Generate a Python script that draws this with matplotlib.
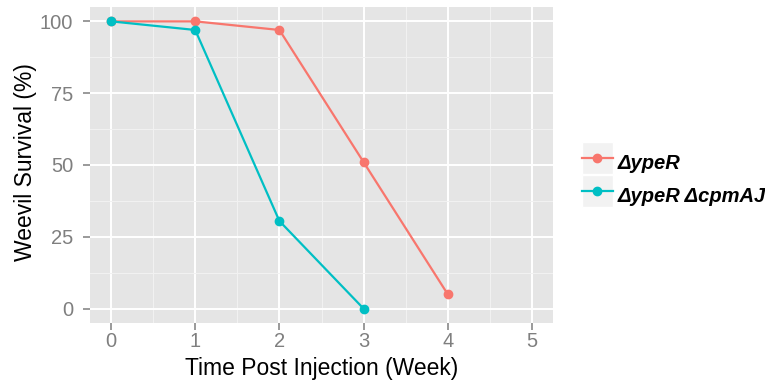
import matplotlib
matplotlib.use("Agg")
import matplotlib.pyplot as plt
from matplotlib.legend_handler import HandlerLine2D
from matplotlib.patches import Rectangle

plt.rcParams['font.family'] = ['Liberation Sans', 'DejaVu Sans']

weeks = [0, 1, 2, 3, 4]
weeks_double = [0, 1, 2, 3]
survival_ypeR = [100, 100, 97, 51, 5]
survival_double = [100, 97, 30.5, 0]
labels = ['ΔypeR', 'ΔypeR ΔcpmAJ']
colors = ['#F8766D', '#00BFC4']
xticks = [0, 1, 2, 3, 4, 5]
yticks = [0, 25, 50, 75, 100]

GREY_BG = '#E5E5E5'
TICK_GREY = '#7F7F7F'


class KeyHandler(HandlerLine2D):
    # ggplot-style legend key: grey square behind the line+point glyph
    def create_artists(self, legend, orig_handle, xdescent, ydescent,
                       width, height, fontsize, trans):
        yc = (height - ydescent) / 2
        bg = Rectangle((-xdescent, yc - height / 2), width, height,
                       facecolor='#F2F2F2', edgecolor='white', lw=1.0,
                       transform=trans)
        arts = super().create_artists(legend, orig_handle, xdescent, ydescent,
                                      width, height, fontsize, trans)
        return [bg] + list(arts)


fig = plt.figure(figsize=(7.65, 3.83), dpi=100)
ax = fig.add_axes([90 / 765, 60 / 383, 463 / 765, 316 / 383])
ax.set_facecolor(GREY_BG)

ax.plot(weeks, survival_ypeR, color=colors[0], lw=1.6, marker='o', ms=6,
        label=labels[0], zorder=3)
ax.plot(weeks_double, survival_double, color=colors[1], lw=1.6, marker='o',
        ms=6, label=labels[1], zorder=3)

ax.set_xlim(-0.25, 5.25)
ax.set_ylim(-5, 105)
ax.set_xticks(xticks)
ax.set_yticks(yticks)
ax.set_xticks([0.5, 1.5, 2.5, 3.5, 4.5], minor=True)
ax.set_yticks([12.5, 37.5, 62.5, 87.5], minor=True)
ax.grid(which='major', color='white', lw=1.4)
ax.grid(which='minor', color='#F2F2F2', lw=0.7)
ax.set_axisbelow(True)
for s in ax.spines.values():
    s.set_visible(False)
ax.tick_params(which='major', length=5, width=1.1, color=TICK_GREY,
               labelcolor=TICK_GREY, labelsize=14.5)
ax.tick_params(axis='y', pad=7)
ax.tick_params(axis='x', pad=1.5)
ax.tick_params(which='minor', length=0)

ax.set_xlabel('Time Post Injection (Week)', fontsize=16.5)
ax.set_ylabel('Weevil Survival (%)', fontsize=16.5)
ax.xaxis.set_label_coords(0.5, -0.108)
ax.yaxis.set_label_coords(-0.1145, 0.51)

fs = 14.5
hh = 2.06
leg = fig.legend(handles=ax.get_lines(), labels=labels,
                 handler_map={l: KeyHandler() for l in ax.get_lines()},
                 loc='center left', bbox_to_anchor=(582 / 765, 1 - 179 / 383),
                 frameon=False, fontsize=fs, borderpad=0, borderaxespad=0,
                 handlelength=22.3 / fs, handleheight=hh,
                 handletextpad=0.22, labelspacing=0.05)
for t in leg.get_texts():
    t.set_fontweight('bold')
    t.set_fontstyle('italic')

fig.savefig('out.png', dpi=100)
